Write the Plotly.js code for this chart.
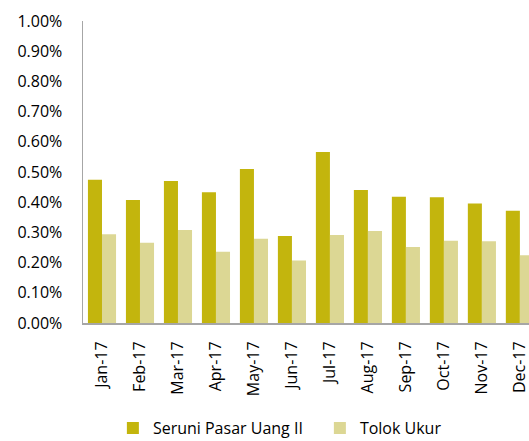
<!DOCTYPE html>
<html>
<head>
<meta charset="utf-8">
<script src="https://cdn.plot.ly/plotly-3.0.1.min.js"></script>
<style>
html,body{margin:0;padding:0;background:#fff;overflow:hidden;}
#chart{width:529px;height:441px;}
</style>
</head>
<body>
<div id="chart"></div>
<script>
const months = ["Jan-17","Feb-17","Mar-17","Apr-17","May-17","Jun-17","Jul-17","Aug-17","Sep-17","Oct-17","Nov-17","Dec-17"];
const seruni = [0.474,0.407,0.470,0.433,0.510,0.288,0.566,0.440,0.418,0.416,0.396,0.372];
const tolok  = [0.294,0.266,0.308,0.236,0.279,0.207,0.291,0.305,0.252,0.272,0.271,0.224];
const yTicks = [0,0.1,0.2,0.3,0.4,0.5,0.6,0.7,0.8,0.9,1.0];
const yTickText = yTicks.map(v => v.toFixed(2) + "%");

const font = {family: "Open Sans, sans-serif", size: 16, color: "#000"};

const data = [
  {type:"bar", name:"Seruni Pasar Uang II", x: months, y: seruni, marker:{color:"#C3B50D"}},
  {type:"bar", name:"Tolok Ukur", x: months, y: tolok, marker:{color:"#DCD794"}}
];

const layout = {
  width: 529, height: 441,
  margin: {l: 83, r: 0, t: 21, b: 118, pad: 0, autoexpand: false},
  paper_bgcolor: "#fff", plot_bgcolor: "#fff",
  font: font,
  barmode: "group",
  bargap: 0.26,
  bargroupgap: 0,
  showlegend: true,
  legend: {orientation: "h", x: 0.067, xanchor: "left", y: -0.292, yanchor: "top",
           font: {family: "Open Sans, sans-serif", size: 16, color: "#000"},
           itemwidth: 30, entrywidth: 162, traceorder: "normal"},
  xaxis: {
    type: "category",
    range: [-0.5, 11.24],
    tickangle: -90,
    automargin: false,
    showgrid: false,
    showline: true, linecolor: "#A6A6A6", linewidth: 2,
    ticks: "", ticklabelstandoff: 10,
    tickfont: font, fixedrange: true
  },
  yaxis: {
    range: [0, 1.0],
    tickmode: "array",
    tickvals: yTicks,
    ticktext: yTickText,
    automargin: false,
    showgrid: false, zeroline: false,
    showline: true, linecolor: "#A6A6A6", linewidth: 1.5,
    ticks: "", ticklabelstandoff: 16,
    tickfont: font, fixedrange: true
  }
};

Plotly.newPlot("chart", data, layout, {displayModeBar: false, staticPlot: true});
</script>
</body>
</html>
